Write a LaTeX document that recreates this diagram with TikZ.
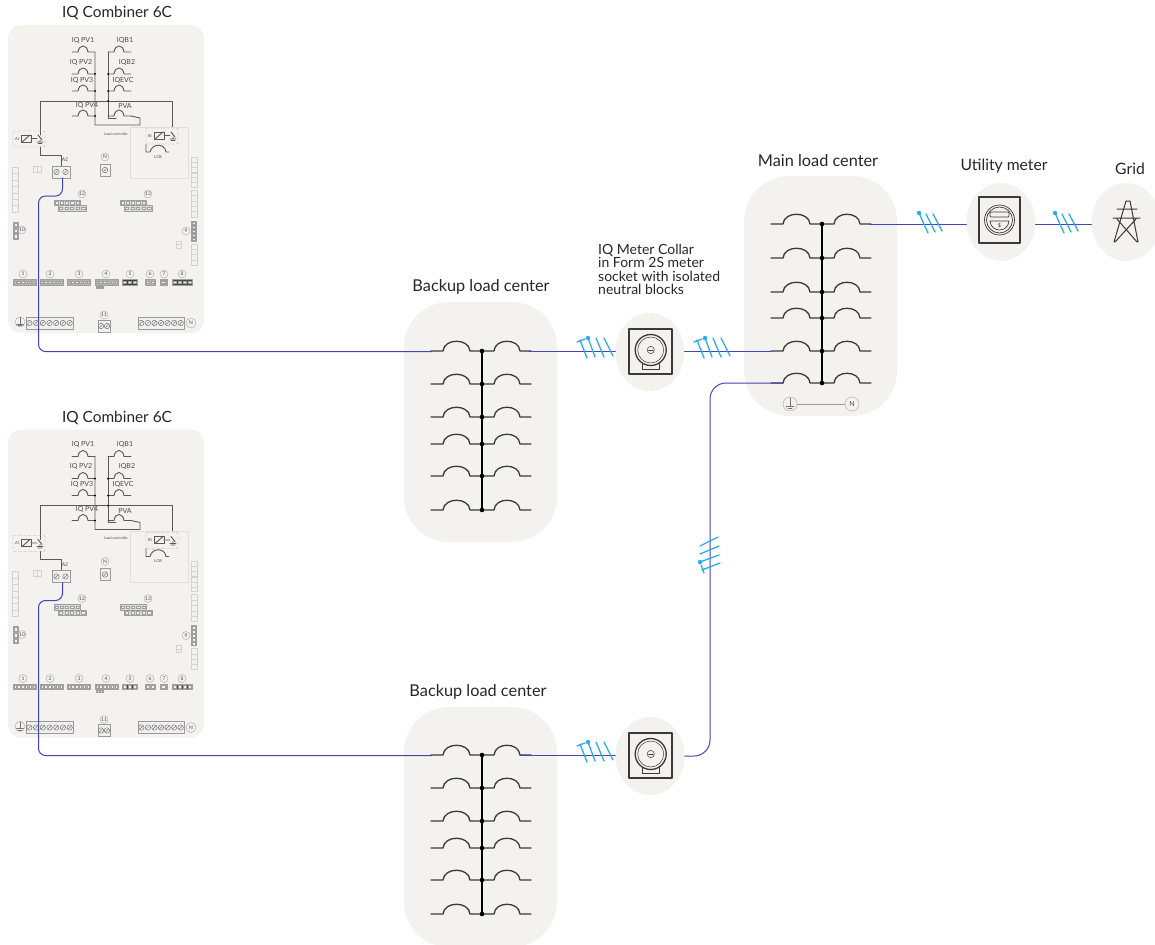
\documentclass[tikz,border=0pt]{standalone}
\usepackage{fontspec}
\setmainfont{Lato}
\usetikzlibrary{shapes.geometric}
\definecolor{bayfill}{HTML}{F3F2EE}
\definecolor{wireblue}{HTML}{4344B8}
\definecolor{hashblue}{HTML}{2AABF2}
\definecolor{inkgray}{HTML}{3A3A3A}

\tikzset{
  bay/.style={fill=bayfill, rounded corners=45, inner sep=0, minimum width=153, minimum height=240},
  panel/.style={fill=bayfill, rounded corners=13, inner sep=0, minimum width=196, minimum height=308},
  bubble/.style={ellipse, fill=bayfill, inner sep=0, minimum width=69, minimum height=78},
  title/.style={inner sep=0, text=black!85, font=\fontsize{16.3}{19}\selectfont},
  tiny/.style={inner sep=0, text=black!70, font=\fontsize{7}{8}\selectfont},
  numdot/.style={circle, draw=gray!70, line width=0.4, inner sep=0, minimum size=8, text=black!70, font=\fontsize{5}{6}\selectfont},
  wire/.style={draw=wireblue, line width=1},
  hash/.style={draw=hashblue, line width=1.3},
  busline/.style={draw=black, line width=1.9},
  lug/.style={draw=inkgray, line width=1.3},
  thinlug/.style={draw=black!65, line width=0.9},
  cellline/.style={draw=gray!75, line width=0.4},
  faint/.style={draw=gray!35, line width=0.4},
  meterline/.style={draw=inkgray, line width=1.1},
}

% one row of a load center, (0,0) is on the bus
\tikzset{
  loadrow/.pic={
    \draw[lug] (-51,0) -- (-39,0) .. controls (-38,-13) and (-13,-13) .. (-12,0) -- (12,0)
      .. controls (13,-13) and (37,-13) .. (38,0) -- (49,0);
    \fill (0,0) circle (2.3);
  },
  smalllug/.pic={
    \draw[thinlug] (0,0) -- (6,0) .. controls (7,-8) and (15,-8) .. (16,0) -- (23,0);
  },
  relay/.pic={
    \draw[gray!60, line width=0.4, densely dashed, rounded corners=1] (0,0) rectangle (32,16);
    \node[tiny, font=\fontsize{4}{5}\selectfont] (-lbl) at (4,8) {#1};
    \draw[thinlug, fill=bayfill] (8,4) rectangle (18,11);
    \draw[thinlug] (9,11) -- (17,4) (18,7.5) -- (24,7.5) (25,4) -- (29,9) (27,9) -- (27,11)
      (24,11) -- (30,11) (25,12.5) -- (29,12.5);
  },
  hashfour/.pic={
    \draw[hash] (0,-11) -- (7,7) (-3,-9) -- (5,-12) (8,-13) -- (15,6) (16,-13) -- (24,6) (24,-13) -- (33,5);
    \fill[hashblue] (8,-13) circle (2.2);
  },
  hashthree/.pic={
    \draw[hash] (0,-11) -- (9,9) (7,-10) -- (16,8) (14,-10) -- (23,7);
    \fill[hashblue] (0,-11) circle (2.2);
  },
  collar/.pic={
    \draw[meterline, line width=1.2] (-21,-23) rectangle (22,22);
    \draw[meterline, line width=0.6] (-8,9) rectangle (9,17);
    \draw[meterline, fill=bayfill, line width=1.3] (0.7,-2) circle (15.5);
    \draw[meterline, line width=0.5] (0.7,-2) circle (13);
    \draw[meterline, line width=0.5] (0.7,-2) circle (3.6);
    \draw[meterline, line width=0.5] (-1.5,-2) -- (3,-2);
  },
}

% strips of small cells on the combiner board
\newcommand{\cellrow}[6][gray!60]{%
  \draw[cellline, fill=#1] (#2,#3) rectangle ++(#4,#5);
  \foreach \k in {1,...,#6}
    \draw[cellline, fill=bayfill] ({#2+(\k-0.8)*#4/#6},{#3+0.25*#5}) rectangle ({#2+(\k-0.2)*#4/#6},{#3+0.75*#5});
}
\newcommand{\cellcol}[6][gray!60]{%
  \draw[cellline, fill=#1] (#2,#3) rectangle ++(#4,#5);
  \foreach \k in {1,...,#6}
    \draw[cellline, fill=bayfill] ({#2+0.25*#4},{#3+(\k-0.8)*#5/#6}) rectangle ({#2+0.75*#4},{#3+(\k-0.2)*#5/#6});
}
\newcommand{\ghostcol}[4]{%
  \foreach \k in {1,...,#4}
    \draw[faint] ({#1},{#2+(\k-1)*#3/#4}) rectangle ++(6,{#3/#4});
}
\newcommand{\screwrow}[4]{%
  \draw[draw=gray!80, line width=0.6, fill=gray!12] (#1,#2) rectangle ++({#3},12);
  \foreach \k in {1,...,#4} {
    \draw[gray!90!black, line width=0.5, fill=bayfill] ({#1+(\k-0.5)*#3/#4},{#2+6}) circle (2.7);
    \draw[gray!90!black, line width=0.5] ({#1+(\k-0.5)*#3/#4-1.5},{#2+7.5}) -- ({#1+(\k-0.5)*#3/#4+1.5},{#2+4.5});
  }
}

\tikzset{
  combiner/.pic={
    \node[panel] (-body) at (106,179) {};
    %--- labels over the breakers ---
    \foreach \lname/\lx/\ly/\ltext in {a/83/40/IQ PV1, b/81/62/IQ PV2, c/82/80/IQ PV3, d/87/105/IQ PV4,
        e/125/40/IQB1, f/127/62/IQB2, g/123/80/IQEVC, h/125/106/PVA}
      \node[tiny] (-\lname) at (\lx,\ly) {\ltext};
    \foreach \ly in {52,74,91,116} {
      \pic at (72,\ly) {smalllug};
      \pic at (108,\ly) {smalllug};
    }
    \draw[thinlug] (95,52) -- (95,125) -- (140,125) -- (140,118) -- (131,116);
    \draw[thinlug] (108,52) -- (108,118) -- (116,118);
    \draw[thinlug] (40,135) -- (40,101) -- (172,101) -- (172,127);
    \foreach \dx/\dy in {95/74,95/91,108/74,108/91,108/101,95/116}
      \fill (\dx,\dy) circle (1);
    %--- load controller ---
    \draw[gray!25, line width=0.4] (130,127) rectangle (188,178);
    \node[tiny, font=\fontsize{3.6}{4}\selectfont] (-ctrl) at (116,134) {Load controller};
    \pic (-ra) at (13,131) {relay=AI};
    \pic (-rb) at (146,128) {relay=BI};
    \draw[thinlug] (146,144) -- (146,152) -- (150,152) .. controls (152,143) and (165,143) .. (166,152) -- (169,152);
    \node[tiny, font=\fontsize{4}{5}\selectfont] (-lcb) at (158,157) {LCB};
    %--- A2 and N terminals ---
    \draw[thinlug] (40,147) -- (40,155) -- (61,155) -- (61,166);
    \node[tiny, font=\fontsize{5}{6}\selectfont] (-atwo) at (65,160) {A2};
    \screwrow{52}{166}{18}{2}
    \coordinate (-feed) at (62.5,178);
    \coordinate (-bend) at (38.5,196);
    \node[numdot] (-neutral) at (105,157) {N};
    \screwrow{100}{164}{10}{1}
    \draw[faint] (33,166) rectangle (41,172) (37,166) -- (37,172);
    %--- light strips left and right ---
    \ghostcol{12}{167}{45}{7}
    \ghostcol{191}{157}{15}{3}
    \ghostcol{191}{173}{14}{3}
    \ghostcol{191}{190}{27}{5}
    \ghostcol{191}{244}{21}{4}
    \draw[faint] (176,241) rectangle (181,248) (176,244.5) -- (181,244.5);
    \cellcol[gray!80]{191}{221}{5}{20}{5}
    \cellcol[gray!70]{13}{222}{5}{17}{3}
    %--- connector rows ---
    \cellrow[gray!30]{54}{200}{26}{5.5}{5}
    \cellrow[gray!30]{58}{205.5}{28}{5.5}{5}
    \cellrow[gray!30]{120}{200}{26}{5.5}{5}
    \cellrow[gray!30]{124}{205.5}{28}{5.5}{5}
    \cellrow{13}{279.5}{23}{5.5}{6}
    \cellrow{40}{279.5}{23}{5.5}{6}
    \cellrow{67}{279.5}{23}{5.5}{6}
    \cellrow{95}{279.5}{23}{5.5}{6}
    \cellrow[gray!90]{96}{285}{7}{3}{2}
    \cellrow[black!75]{122}{279.5}{15}{5.5}{3}
    \cellrow{145}{279.5}{10}{5.5}{2}
    \cellrow[gray!75]{160}{279.5}{7}{5.5}{1}
    \cellrow[black!70]{172}{279.5}{20}{5.5}{4}
    \foreach \nname/\nx/\ny/\ntext in {n1/23/274/1, n2/50/274/2, n3/79/274/3, n4/106/274/4, n5/130/274/5,
        n6/150/274/6, n7/164/274/7, n8/182/274/8, n9/186/231/9, n10/22/230/10, n11/104/315/11,
        n12/82/194/12, n13/148/194/13}
      \node[numdot] (-\nname) at (\nx,\ny) {\ntext};
    %--- bottom terminals ---
    \node[numdot, minimum size=10] (-gnd) at (20,322) {};
    \draw[gray!90!black, line width=0.5] (20,317) -- (20,324) (16.5,324) -- (23.5,324) (18,325.5) -- (22,325.5);
    \screwrow{26}{317}{47}{7}
    \screwrow{98}{320}{12}{2}
    \screwrow{138}{317}{46}{7}
    \node[numdot, minimum size=10] (-nbar) at (191,323) {N};
  },
}

\begin{document}
\begin{tikzpicture}[x=1pt, y=-1pt, line cap=round, line join=round]
  \useasboundingbox (0,0) rectangle (1155,944);

  %--- combiner boards ----------------------------------------------------
  \node[title, font=\fontsize{15.4}{18}\selectfont] (titleA) at (117,13) {IQ Combiner 6C};
  \node[title, font=\fontsize{15.4}{18}\selectfont] (titleB) at (117,418) {IQ Combiner 6C};
  \pic (top) at (0,0) {combiner};
  \pic (low) at (0,404.5) {combiner};

  %--- load centers -------------------------------------------------------
  \node[bay] (backupA) at (480.5,422) {};
  \node[bay] (backupB) at (480.5,827) {};
  \node[bay] (main) at (820.5,296) {};
  \node[title] (titleC) at (481,287) {Backup load center};
  \node[title] (titleD) at (478,692) {Backup load center};
  \node[title] (titleE) at (818,161) {Main load center};

  \draw[busline] (482,351) -- (482,510);
  \foreach \ry in {351,384,417,444,476,510}
    \pic at (482,\ry) {loadrow};
  \draw[busline] (482,755) -- (482,914);
  \foreach \ry in {755,788,821,848,880,914}
    \pic at (482,\ry) {loadrow};
  \draw[busline] (822,224) -- (822,383);
  \foreach \ry in {224,258,292,318,351,383}
    \pic at (822,\ry) {loadrow};

  % ground and neutral of the main load center
  \node[numdot, minimum size=14, font=\fontsize{7}{8}\selectfont] (gndM) at (790,404) {};
  \node[numdot, minimum size=14, font=\fontsize{7}{8}\selectfont] (neuM) at (852,404) {N};
  \draw[gray!80, line width=0.7] (gndM) -- (neuM);
  \draw[gray!90!black, line width=0.6] (790,398) -- (790,406) (786,406) -- (794,406) (788,408) -- (792,408);

  %--- collars, meter, grid -------------------------------------------------
  \node[bubble] (collarA) at (650,352) {};
  \node[bubble] (collarB) at (650,756) {};
  \node[bubble] (meter) at (1001,222) {};
  \node[bubble] (grid) at (1126,222) {};
  \pic at (collarA) {collar};
  \pic at (collarB) {collar};
  \node[title, anchor=north west, align=left, font=\fontsize{14}{13.6}\selectfont] (collarText) at (598,243.5)
    {IQ Meter Collar\\in Form 2S meter\\socket with isolated\\neutral blocks};
  \node[title, font=\fontsize{15.7}{18}\selectfont] (titleF) at (1004,166) {Utility meter};
  \node[title, font=\fontsize{15.7}{18}\selectfont] (titleG) at (1130,169) {Grid};

  % utility meter
  \draw[meterline, line width=1.3] (979,197) rectangle (1020,243);
  \draw[meterline, line width=0.7] (999.5,220) circle (15);
  \draw[meterline, line width=0.7] (999.5,220) circle (13);
  \draw[meterline, line width=0.7, rounded corners=1] (990,212) rectangle (1009,217);
  \draw[meterline, line width=0.7] (990,221) -- (1009,221) .. controls (1008,233) and (991,233) .. (990,221);
  \node[inner sep=0, font=\fontsize{5}{6}\selectfont] (dollar) at (999.5,225.5) {\$};

  % tower
  \draw[meterline, line width=1] (1114,242) -- (1126,201) -- (1130,201) -- (1138,242)
    (1117,209) -- (1137,209) (1113,218) -- (1140,218) (1117,219) -- (1137,242) (1136,219) -- (1115,242);

  %--- blue wiring ----------------------------------------------------------
  \coordinate (feedA) at (432,351.5);
  \coordinate (feedB) at (432,755.5);
  \coordinate (feedM) at (783,383);
  \coordinate (riser) at (710,383);
  \coordinate (outA) at (529,351);
  \coordinate (outB) at (520,755);
  \coordinate (inM) at (771,351);
  \coordinate (outM) at (870,224);

  \draw[wire, rounded corners=7] (top-feed) |- (top-bend) |- (feedA);
  \draw[wire, rounded corners=7] (low-feed) |- (low-bend) |- (feedB);
  \draw[wire] (outA) -- (outA -| collarA.west);
  \draw[wire] (outB) -- (outB -| collarB.west);
  \draw[wire] (inM -| collarA.east) -- (inM);
  \draw[wire] (outM) -- (outM -| meter.west);
  \draw[wire] (outM -| meter.east) -- (outM -| grid.west);
  \draw[wire, rounded corners=16] (collarB.east) -| (riser) -- (feedM);

  %--- hash marks ------------------------------------------------------------
  \pic at (580,351) {hashfour};
  \pic at (697,351) {hashfour};
  \pic at (580,755) {hashfour};
  \pic[rotate=90] at (713,570) {hashfour};
  \pic at (919,224) {hashthree};
  \pic at (1055,224) {hashthree};
\end{tikzpicture}
\end{document}
